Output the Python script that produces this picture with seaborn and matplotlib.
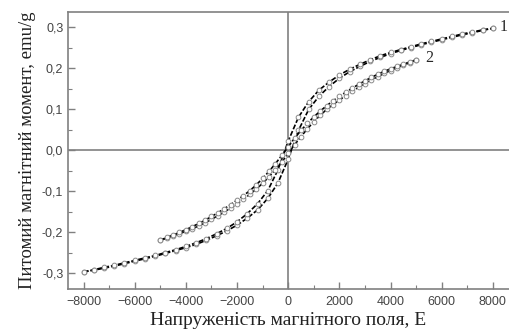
import numpy as np
import pandas as pd
import seaborn as sns
import matplotlib
matplotlib.use('Agg')
from matplotlib import pyplot as plt
from matplotlib.ticker import MultipleLocator, FuncFormatter

# curve 1, field step 400
h1 = [-8000, -7600, -7200, -6800, -6400, -6000, -5600, -5200, -4800, -4400, -4000,
      -3600, -3200, -2800, -2400, -2000, -1600, -1200, -800, -400, 0,
      400, 800, 1200, 1600, 2000, 2400, 2800, 3200, 3600, 4000,
      4400, 4800, 5200, 5600, 6000, 6400, 6800, 7200, 7600, 8000]
m1_up = [-0.297, -0.293, -0.288, -0.283, -0.277, -0.271, -0.265, -0.259, -0.252, -0.245, -0.238,
         -0.230, -0.220, -0.209, -0.197, -0.183, -0.166, -0.146, -0.118, -0.080, -0.022,
         0.048, 0.099, 0.131, 0.155, 0.175, 0.191, 0.204, 0.216, 0.226, 0.235,
         0.243, 0.250, 0.257, 0.263, 0.269, 0.275, 0.281, 0.286, 0.292, 0.297]
m1_down = [-0.297, -0.292, -0.286, -0.281, -0.275, -0.269, -0.263, -0.257, -0.250, -0.243, -0.235,
           -0.226, -0.216, -0.204, -0.191, -0.175, -0.155, -0.131, -0.099, -0.048, 0.022,
           0.080, 0.118, 0.146, 0.166, 0.183, 0.197, 0.209, 0.220, 0.230, 0.238,
           0.245, 0.252, 0.259, 0.265, 0.271, 0.277, 0.283, 0.288, 0.293, 0.297]

# curve 2, field step 250
h2 = [-5000, -4750, -4500, -4250, -4000, -3750, -3500, -3250, -3000, -2750, -2500,
      -2250, -2000, -1750, -1500, -1250, -1000, -750, -500, -250, 0,
      250, 500, 750, 1000, 1250, 1500, 1750, 2000, 2250, 2500,
      2750, 3000, 3250, 3500, 3750, 4000, 4250, 4500, 4750, 5000]
m2_up = [-0.220, -0.215, -0.209, -0.204, -0.198, -0.192, -0.185, -0.177, -0.169, -0.160, -0.151,
         -0.141, -0.131, -0.120, -0.108, -0.095, -0.081, -0.065, -0.048, -0.029, -0.008,
         0.013, 0.033, 0.052, 0.069, 0.085, 0.099, 0.111, 0.122, 0.133, 0.143,
         0.153, 0.162, 0.171, 0.179, 0.187, 0.194, 0.201, 0.207, 0.213, 0.220]
m2_down = [-0.220, -0.213, -0.207, -0.201, -0.194, -0.187, -0.179, -0.171, -0.162, -0.153, -0.143,
           -0.133, -0.122, -0.111, -0.099, -0.085, -0.069, -0.052, -0.033, -0.013, 0.008,
           0.029, 0.048, 0.065, 0.081, 0.095, 0.108, 0.120, 0.131, 0.141, 0.151,
           0.160, 0.169, 0.177, 0.185, 0.192, 0.198, 0.204, 0.209, 0.215, 0.220]

curve_labels = ['1', '2']
x_label = 'Напруженість магнітного поля, Е'
y_label = 'Питомий магнітний момент, emu/g'

sns.set_style('ticks')
plt.rcParams['font.family'] = ['Liberation Sans', 'DejaVu Sans']

grey = '#808080'
fig = plt.figure(figsize=(5.09, 3.30), dpi=100)
ax = fig.add_axes([0.134, 0.124, 0.866, 0.840])

ax.axhline(0, color=grey, lw=1.2, zorder=1)
ax.axvline(0, color=grey, lw=1.2, zorder=1)

style = dict(color='black', linestyle=(0, (3, 1.2)), linewidth=1.2, marker='o', markersize=3.4,
             markerfacecolor='white', markeredgecolor='#8a8a8a', markeredgewidth=0.7, zorder=3)
for h, m in [(h1, m1_up), (h1, m1_down), (h2, m2_up), (h2, m2_down)]:
  sns.lineplot(x=h, y=m, sort=False, ax=ax, **style)

ax.text(8250, 0.299, curve_labels[0], family='Liberation Serif', fontsize=11.5, va='center', ha='left')
ax.text(5350, 0.224, curve_labels[1], family='Liberation Serif', fontsize=11.5, va='center', ha='left')

ax.set_xlim(-8600, 8630)
ax.set_ylim(-0.339, 0.337)
ax.xaxis.set_major_locator(MultipleLocator(2000))
ax.xaxis.set_minor_locator(MultipleLocator(1000))
ax.yaxis.set_major_locator(MultipleLocator(0.1))
ax.yaxis.set_minor_locator(MultipleLocator(0.05))
ax.yaxis.set_major_formatter(FuncFormatter(lambda v, p: f'{v:.1f}'.replace('.', ',').replace('-0,0', '0,0')))

ax.tick_params(which='both', direction='in', colors=grey, labelcolor='#444444', labelsize=9)
ax.tick_params(which='major', length=5, width=1)
ax.tick_params(which='minor', length=3, width=0.8)
ax.tick_params(axis='x', pad=5)

for s in ['left', 'bottom', 'top']:
  ax.spines[s].set_color(grey)
  ax.spines[s].set_linewidth(1.2)
ax.spines['right'].set_visible(False)

ax.set_xlabel(x_label, family='Liberation Serif', fontsize=14, color='#222222', labelpad=3)
ax.set_ylabel(y_label, family='Liberation Serif', fontsize=13.5, color='#222222', labelpad=4)

fig.savefig('out.png', dpi=100)
